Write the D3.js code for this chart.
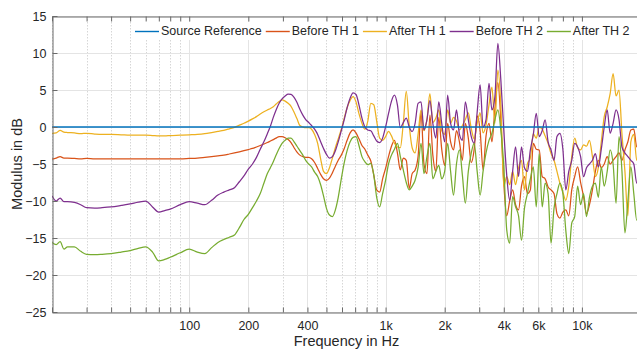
<!DOCTYPE html>
<html>
<head>
<meta charset="utf-8">
<script src="https://cdn.jsdelivr.net/npm/d3@7"></script>
<style>
  html, body { margin: 0; padding: 0; background: #ffffff; }
  svg { display: block; font-family: "Liberation Sans", Arial, Helvetica, sans-serif; }
</style>
</head>
<body>
<svg id="chart" width="637" height="349"></svg>
<script>
// Frequency grid (Hz): coarse below 250 Hz, 1/20-octave steps above.
const freqHz = [
  20, 21, 22, 23, 24, 26, 28, 30, 33, 36,
  40, 45, 50, 55, 60, 65, 70, 75, 80, 90,
  100, 110, 120, 130, 140, 150, 160, 170, 180, 190,
  200, 210, 220, 230, 240,
  250, 259, 268, 277, 287, 297, 308, 319, 330, 342,
  354, 366, 379, 392, 406, 420, 435, 451, 467, 483,
  500, 518, 536, 555, 574, 595, 616, 637, 660, 683,
  707, 732, 758, 785, 812, 841, 871, 901, 933, 966,
  1000, 1035, 1072, 1110, 1149, 1189, 1231, 1275, 1320, 1366,
  1414, 1464, 1516, 1569, 1625, 1682, 1741, 1803, 1866, 1932,
  2000, 2071, 2144, 2219, 2297, 2378, 2462, 2549, 2639, 2732,
  2828, 2928, 3031, 3138, 3249, 3364, 3482, 3605, 3732, 3864,
  4000, 4141, 4287, 4438, 4595, 4757, 4925, 5098, 5278, 5464,
  5657, 5856, 6063, 6277, 6498, 6727, 6964, 7210, 7464, 7727,
  8000, 8282, 8574, 8877, 9190, 9514, 9849, 10197, 10556, 10929,
  11314, 11713, 12126, 12553, 12996, 13454, 13929, 14420, 14929, 15455,
  16000, 16564, 17148, 17753, 18379, 19027, 19698
];

// Modulus in dB for each measurement, one value per frequency above.
const beforeTH1 = [
  -4.35, -4.2, -4.0, -4.2, -4.2, -4.25, -4.3, -4.25, -4.3, -4.3,
  -4.3, -4.3, -4.3, -4.3, -4.3, -4.3, -4.3, -4.3, -4.3, -4.3,
  -4.25, -4.2, -4.1, -4.0, -3.9, -3.8, -3.65, -3.5, -3.35, -3.2,
  -3.05, -2.9, -2.7, -2.5, -2.3,
  -2.1, -1.9, -1.7, -1.5, -1.3, -1.3, -1.45, -1.7, -2.1, -2.8,
  -3.4, -3.8, -4.0, -4.1, -4.1, -4.3, -4.8, -5.6, -6.4, -7.0,
  -7.2, -6.9, -6.2, -5.3, -4.5, -3.8, -2.9, -1.8, -0.8, -0.4,
  -0.8, -1.6, -2.5, -3.0, -3.8, -4.6, -6.5, -8.5, -8.8, -7.0,
  -5.6, -4.0, -2.6, -1.8, -3.5, -5.8, -4.2, -4.5, -8.3, -6.3,
  -5.8, -4.0, 2.0, -5.0, -6.3, 1.6, -3.8, -6.0, 1.3, -3.0,
  -5.2, 0.5, -2.0, -3.1, -0.5, -2.0, -4.5, 0.5, -1.5, -4.8,
  -3.0, 1.5, -0.5, -5.8, -1.2, 0.5, -2.0, 2.5, 6.0, 1.0,
  -7.5, -12.0, -10.0, -8.5, -10.5, -11.2, -8.0, -6.7, -9.0, -8.5,
  -2.2, -3.0, -3.1, -6.7, -7.0, -8.1, -8.5, -9.0, -11.7, -12.3,
  -11.5, -11.2, -12.0, -8.5, -6.7, -5.4, -7.5, -9.4, -11.7, -10.5,
  -8.5, -6.0, -4.5, -5.5, -5.0, -4.0, -5.0, -4.5, -4.0, -3.5,
  -4.5, -3.1, -2.0, -0.4, -0.3, -2.7, -2.0
];

const afterTH1 = [
  -0.85, -0.8, -0.45, -0.7, -0.75, -0.8, -0.9, -0.85, -0.95, -1.0,
  -1.0, -1.05, -1.1, -1.1, -1.1, -1.15, -1.2, -1.2, -1.15, -1.1,
  -1.05, -1.0, -0.9, -0.75, -0.6, -0.45, -0.25, -0.05, 0.25, 0.5,
  0.8, 1.1, 1.4, 1.75, 2.05,
  2.3, 2.5, 2.75, 3.1, 3.45, 3.65, 3.5, 3.2, 2.8, 2.0,
  1.1, 0.2, 0.0, -0.1, -0.1, -0.3, -1.0, -2.2, -4.3, -6.0,
  -6.3, -5.5, -4.2, -2.8, -1.6, -0.3, 1.2, 2.6, 3.6, 4.1,
  3.4, 1.8, 0.5, -0.3, 0.8, 3.2, 3.0, 0.8, -1.5, -1.8,
  -1.3, -0.6, -1.2, -2.2, -2.7, -2.8, 0.5, 4.8, 0.2, -2.8,
  -3.5, -1.0, 2.3, -0.5, 1.0, 4.5, 0.6, 1.2, 2.3, -0.5,
  -1.0, 2.3, 0.5, 1.3, 0.8, -0.4, 0.2, 1.0, 1.9, -0.2,
  -1.6, 0.5, 1.9, -0.8, 0.3, 3.0, 5.4, 0.5, 7.7, 3.0,
  -8.0, -6.7, -7.8, -6.0, -7.8, -5.5, -4.5, -8.5, -5.0, -4.2,
  -0.9, -1.5, 0.0, -0.3, -1.2, -2.2, -3.6, -4.5, -6.0, -7.6,
  -8.8, -9.9, -8.0, -4.0, -1.5, -2.8, -3.1, -2.4, -2.6, -1.8,
  -4.0, -6.7, -5.5, -2.0, 1.4, 2.7, 4.5, 7.2, 4.2, 5.0,
  -1.0, -6.0, -12.0, -2.0, -1.0, -4.5, -3.5
];

const beforeTH2 = [
  -9.3, -10.0, -9.6, -10.1, -10.1, -10.2, -10.5, -10.9, -10.95, -10.9,
  -10.8, -10.6, -10.4, -10.15, -10.0, -10.8, -11.5, -11.3, -11.1, -10.5,
  -10.1, -10.3, -10.5, -9.9, -9.2, -8.8, -8.5, -8.2, -7.4, -6.6,
  -5.7, -5.0, -4.1, -3.0, -2.0,
  -0.9, 0.1, 1.3, 2.3, 3.2, 3.8, 4.2, 4.45, 4.4, 4.0,
  3.3, 2.4, 1.6, 1.0, 0.6, 0.2, -0.3, -1.0, -2.0, -2.9,
  -3.7, -4.2, -4.0, -3.2, -2.0, -0.5, 1.0, 2.6, 3.9, 4.6,
  4.4, 3.0, 1.2, 0.0, -0.4, -0.5, -1.2, -1.9, -2.1, -1.5,
  0.0, 1.8, 3.5, 4.3, 3.0, -0.1, 0.6, 1.2, 0.0, -0.6,
  0.5, 3.2, 3.4, -0.4, 1.0, 3.55, 0.5, -1.5, 3.4, 0.5,
  -2.0, 4.3, 0.5, -0.4, 2.3, -1.0, -1.8, 3.4, 1.0, -1.3,
  -2.2, 2.0, 5.7, 0.0, 1.0, 5.9, 2.3, 4.1, 11.3, 6.4,
  -0.4, -6.5, -9.9, -6.0, -2.7, -6.7, -2.7, -5.5, -6.0, -3.1,
  -1.0, 1.85, -1.3, -0.5, 0.95, -2.0, -3.1, -4.5, -1.3, -0.85,
  -3.0, -8.5, -6.0, -4.5, -2.2, -2.7, -4.0, -6.7, -5.5, -5.0,
  -4.5, -3.6, -5.4, -3.0, 0.0, 2.3, -0.85, 0.5, 2.3, 1.0,
  -2.7, -3.5, -4.0, -4.5, -5.0, -7.6, -6.0
];

const afterTH2 = [
  -15.6, -15.9, -15.5, -16.5, -16.2, -16.2, -16.8, -17.2, -17.25, -17.2,
  -17.1, -16.9, -16.7, -16.4, -16.2, -16.9, -18.1, -17.9, -17.6, -17.0,
  -16.5, -16.9, -17.1, -16.3, -15.6, -15.2, -14.9, -14.6, -13.6, -12.5,
  -11.8, -10.9, -10.0, -9.0, -7.6,
  -6.3, -5.5, -4.7, -3.8, -2.9, -2.2, -1.8, -1.5, -1.5, -2.0,
  -2.6, -3.2, -3.8, -4.5, -5.0, -5.4, -6.1, -6.7, -7.8, -9.3,
  -11.0, -11.9, -12.1, -11.2, -9.5, -7.0, -4.8, -3.2, -2.0, -1.4,
  -1.3, -2.5, -4.0, -4.7, -5.1, -4.9, -6.5, -9.5, -10.8, -9.0,
  -7.2, -5.0, -3.8, -3.0, -2.2, -4.0, -5.8, -7.5, -8.5, -8.0,
  -7.2, -5.5, -2.2, -6.3, -4.0, -2.2, -7.0, -6.0, -5.2, -7.0,
  -6.0, -2.2, -6.0, -9.2, -5.0, -3.1, -6.5, -10.3, -6.0, -3.5,
  -2.2, -6.0, -9.2, -6.0, -3.5, -1.8, -0.85, 1.0, 2.3, -0.4,
  -5.2, -13.9, -15.7, -9.4, -10.8, -12.0, -15.3, -11.0, -9.0, -7.0,
  -5.4, -10.8, -3.6, -10.8, -7.6, -9.0, -15.7, -11.0, -9.0, -7.6,
  -9.0, -14.0, -17.1, -13.0, -12.1, -8.0, -10.5, -9.0, -12.1, -9.5,
  -8.0, -7.6, -9.5, -5.4, -8.0, -6.0, -3.1, -5.0, -10.3, -1.3,
  -6.0, -14.3, -10.0, -5.4, -9.0, -12.6, -10.0
];

// The source reference is flat at 0 dB over the whole band.
const sourceRefFreq = [20, 20000];
const sourceRefDb = [0, 0];

const seriesNames = ["Source Reference", "Before TH 1", "After TH 1", "Before TH 2", "After TH 2"];
const seriesColors = ["#0072BD", "#D95319", "#EDB120", "#7E2F8E", "#77AC30"];

const xTickValues = [100, 200, 400, 1000, 2000, 4000, 6000, 10000];
const xTickLabels = ["100", "200", "400", "1k", "2k", "4k", "6k", "10k"];
const yTickValues = [-25, -20, -15, -10, -5, 0, 5, 10, 15];

// ---- layout ----
const svg = d3.select("#chart");
const plot = { left: 52, top: 16, right: 641, bottom: 312 };
const axisColor = "#6a6a6a";
const textColor = "#262626";

const x = d3.scaleLog().domain([20, 20000]).range([plot.left, plot.right]);
const y = d3.scaleLinear().domain([-25, 15]).range([plot.bottom, plot.top]);

// minor positions of the log axis (2..9 times each decade)
const minorX = [];
for (let dec = 10; dec <= 10000; dec *= 10) {
  for (let m = 1; m <= 9; m++) {
    const v = dec * m;
    if (v >= 20 && v <= 20000 && !xTickValues.includes(v)) minorX.push(v);
  }
}

svg.append("defs").append("clipPath").attr("id", "plotClip")
  .append("rect")
  .attr("x", plot.left).attr("y", plot.top)
  .attr("width", plot.right - plot.left).attr("height", plot.bottom - plot.top);

// ---- grid ----
const grid = svg.append("g");
grid.selectAll(".gx-minor").data(minorX).join("line")
  .attr("x1", d => Math.round(x(d)) + 0.5).attr("x2", d => Math.round(x(d)) + 0.5)
  .attr("y1", plot.top).attr("y2", plot.bottom)
  .attr("stroke", "#d6d6d6").attr("stroke-width", 1).attr("stroke-dasharray", "1.5,1.5");
grid.selectAll(".gx-major").data(xTickValues).join("line")
  .attr("x1", d => Math.round(x(d)) + 0.5).attr("x2", d => Math.round(x(d)) + 0.5)
  .attr("y1", plot.top).attr("y2", plot.bottom)
  .attr("stroke", "#e4e4e4").attr("stroke-width", 1);
grid.selectAll(".gy").data(yTickValues).join("line")
  .attr("x1", plot.left).attr("x2", plot.right)
  .attr("y1", d => Math.round(y(d)) + 0.5).attr("y2", d => Math.round(y(d)) + 0.5)
  .attr("stroke", "#e4e4e4").attr("stroke-width", 1);

// ---- curves ----
const line = d3.line()
  .x(d => x(d[0]))
  .y(d => y(d[1]))
  .curve(d3.curveMonotoneX);

const curves = svg.append("g").attr("clip-path", "url(#plotClip)");
const measured = [
  { data: beforeTH1, color: seriesColors[1] },
  { data: afterTH1,  color: seriesColors[2] },
  { data: beforeTH2, color: seriesColors[3] },
  { data: afterTH2,  color: seriesColors[4] }
];
measured.forEach(s => {
  curves.append("path")
    .datum(d3.zip(freqHz, s.data))
    .attr("fill", "none")
    .attr("stroke", s.color)
    .attr("stroke-width", 1.25)
    .attr("stroke-linejoin", "round")
    .attr("d", line);
});
curves.append("path")
  .datum(d3.zip(sourceRefFreq, sourceRefDb))
  .attr("fill", "none")
  .attr("stroke", seriesColors[0])
  .attr("stroke-width", 1.4)
  .attr("d", line);

// ---- axes ----
function styleAxis(g) {
  g.select(".domain").attr("stroke", axisColor);
  g.selectAll(".tick line").attr("stroke", axisColor);
  g.selectAll(".tick text").attr("fill", textColor).attr("font-size", "12.5px")
    .attr("font-family", '"Liberation Sans", Arial, sans-serif');
}

const allX = xTickValues.concat(minorX).sort((a, b) => a - b);
const labelOf = new Map(xTickValues.map((v, i) => [v, xTickLabels[i]]));

svg.append("g")
  .attr("transform", `translate(0,${plot.bottom + 0.5})`)
  .call(d3.axisBottom(x).tickValues(allX).tickSizeInner(-5).tickSizeOuter(0)
    .tickPadding(9).tickFormat(d => labelOf.get(d) || ""))
  .call(styleAxis);

svg.append("g")
  .attr("transform", `translate(0,${plot.top + 0.5})`)
  .call(d3.axisTop(x).tickValues(allX).tickSizeInner(-5).tickSizeOuter(0).tickFormat(""))
  .call(styleAxis);

svg.append("g")
  .attr("transform", `translate(${plot.left + 0.5},0)`)
  .call(d3.axisLeft(y).tickValues(yTickValues).tickSizeInner(-5).tickSizeOuter(0)
    .tickPadding(6).tickFormat(d3.format("d")))
  .call(styleAxis);

// ---- axis titles ----
svg.append("text")
  .attr("x", (plot.left + plot.right) / 2)
  .attr("y", 345.5)
  .attr("text-anchor", "middle")
  .attr("fill", textColor)
  .attr("font-size", "14.5px")
  .text("Frequency in Hz");

svg.append("text")
  .attr("transform", `translate(22,${(plot.top + plot.bottom) / 2}) rotate(-90)`)
  .attr("text-anchor", "middle")
  .attr("fill", textColor)
  .attr("font-size", "14.5px")
  .text("Modulus in dB");

// ---- legend ----
const legend = svg.append("g");
const legendBg = legend.append("rect")
  .attr("fill", "#ffffff");
let lx = 135;
const ly = 31;
seriesNames.forEach((name, i) => {
  legend.append("line")
    .attr("x1", lx).attr("x2", lx + 24)
    .attr("y1", ly + 0.5).attr("y2", ly + 0.5)
    .attr("stroke", seriesColors[i]).attr("stroke-width", 1.4);
  const t = legend.append("text")
    .attr("x", lx + 26).attr("y", ly)
    .attr("dy", "0.35em")
    .attr("fill", textColor)
    .attr("font-size", "12.5px")
    .text(name);
  lx += 26 + t.node().getComputedTextLength() + 4;
});
legendBg.attr("x", 132).attr("y", 22).attr("width", lx - 132).attr("height", 18);
</script>
</body>
</html>
